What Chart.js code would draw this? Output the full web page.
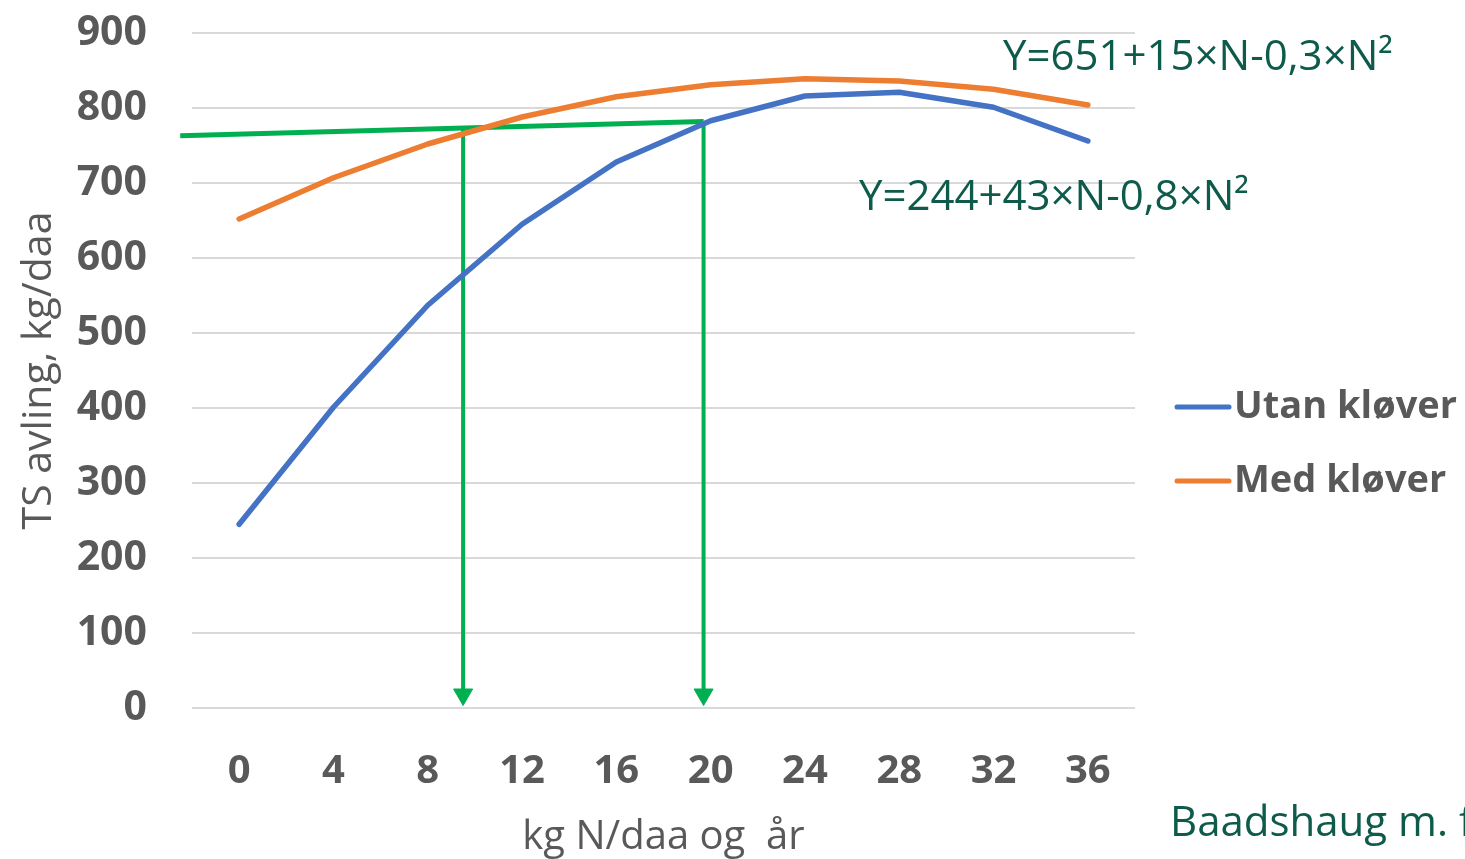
<!DOCTYPE html>
<html>
<head>
<meta charset="utf-8">
<script src="https://cdn.jsdelivr.net/npm/chart.js@4/dist/chart.umd.min.js"></script>
<style>
html,body{margin:0;padding:0;background:#fff;}
#wrap{width:1465px;height:859px;position:relative;}
</style>
</head>
<body>
<div id="wrap"><canvas id="c" width="1465" height="859"></canvas></div>
<script>
const categories = ['0','4','8','12','16','20','24','28','32','36'];
const utanKlover = [245, 401, 537, 645, 728, 783, 816, 821, 801, 756];
const medKlover = [652, 707, 752, 788, 815, 831, 839, 836, 825, 804];
const greenLine = [{x:-2.5, y:763}, {x:19.7, y:782}];
const arrow1 = [{x:9.5, y:773}, {x:9.5, y:18}];
const arrow2 = [{x:19.7, y:782}, {x:19.7, y:18}];
const seriesNames = ['Utan kløver', 'Med kløver'];
const eqMed = 'Y=651+15×N-0,3×N²';
const eqUtan = 'Y=244+43×N-0,8×N²';
const sourceText = 'Baadshaug m. f';
const xTitle = 'kg N/daa og  år';
const yTitle = 'TS avling, kg/daa';

const BLUE = '#4472C4', ORANGE = '#ED7D31', GREEN = '#00B050', TXT = '#595959', EQ = '#0F5B4B';
const FONT = "'Open Sans', 'Noto Sans', sans-serif";

const overlay = {
  id: 'overlay',
  afterDraw(chart) {
    const ctx = chart.ctx;
    ctx.save();
    const items = [[seriesNames[0], BLUE, 407], [seriesNames[1], ORANGE, 481]];
    items.forEach(([t, col, y]) => {
      ctx.strokeStyle = col; ctx.lineWidth = 5; ctx.lineCap = 'round';
      ctx.beginPath(); ctx.moveTo(1177, y); ctx.lineTo(1229, y); ctx.stroke();
      ctx.fillStyle = TXT; ctx.font = 'bold 38px ' + FONT;
      ctx.textBaseline = 'middle'; ctx.textAlign = 'left';
      ctx.fillText(t, 1234, y);
    });
    ctx.fillStyle = EQ; ctx.font = '42px ' + FONT; ctx.textBaseline = 'middle';
    ctx.fillText(eqMed, 1003, 58);
    ctx.fillText(eqUtan, 859, 198);
    ctx.fillText(sourceText, 1170, 824);
    ctx.restore();
  }
};

new Chart(document.getElementById('c'), {
  type: 'line',
  data: {
    labels: categories,
    datasets: [
      {label: seriesNames[0], data: utanKlover, borderColor: BLUE, backgroundColor: BLUE, borderWidth: 5.5, pointRadius: 0, tension: 0, borderCapStyle: 'round', borderJoinStyle: 'round'},
      {label: seriesNames[1], data: medKlover, borderColor: ORANGE, backgroundColor: ORANGE, borderWidth: 5.5, pointRadius: 0, tension: 0, borderCapStyle: 'round', borderJoinStyle: 'round'},
      {label: 'g', data: greenLine, xAxisID: 'xN', borderColor: GREEN, borderWidth: 5, pointRadius: 0, clip: false},
      {label: 'a1', data: arrow1, xAxisID: 'xN', borderColor: GREEN, borderWidth: 4, pointRadius: [0, 11], pointStyle: 'triangle', pointRotation: 180, pointBackgroundColor: GREEN, pointBorderColor: GREEN, pointBorderWidth: 1, clip: false},
      {label: 'a2', data: arrow2, xAxisID: 'xN', borderColor: GREEN, borderWidth: 4, pointRadius: [0, 11], pointStyle: 'triangle', pointRotation: 180, pointBackgroundColor: GREEN, pointBorderColor: GREEN, pointBorderWidth: 1, clip: false}
    ]
  },
  options: {
    responsive: false,
    animation: false,
    events: [],
    layout: {padding: {left: 0, top: 33, right: 330, bottom: 0}},
    plugins: {legend: {display: false}, tooltip: {enabled: false}},
    scales: {
      x: {
        type: 'category',
        offset: true,
        grid: {display: false, drawTicks: false},
        border: {display: false},
        ticks: {color: TXT, font: {family: FONT, size: 40, weight: 'bold'}, padding: 40, maxRotation: 0, autoSkip: false},
        title: {display: true, text: xTitle, color: TXT, font: {family: FONT, size: 40}, padding: {top: 0, bottom: -3}},
        afterFit(s) { s.height = 151; s.paddingLeft = 0; s.paddingRight = 0; }
      },
      xN: {type: 'linear', display: false, min: -2, max: 38},
      y: {
        min: 0, max: 900,
        ticks: {stepSize: 100, color: TXT, font: {family: FONT, size: 41, weight: 'bold'}, padding: 45},
        grid: {color: '#D9D9D9', lineWidth: 2, drawTicks: false},
        border: {display: false},
        title: {display: true, text: yTitle, color: TXT, font: {family: FONT, size: 41}, padding: {top: 15, bottom: 0}},
        afterFit(s) { s.width = 192; s.paddingTop = 0; s.paddingBottom = 0; }
      }
    }
  },
  plugins: [overlay]
});
</script>
</body>
</html>
